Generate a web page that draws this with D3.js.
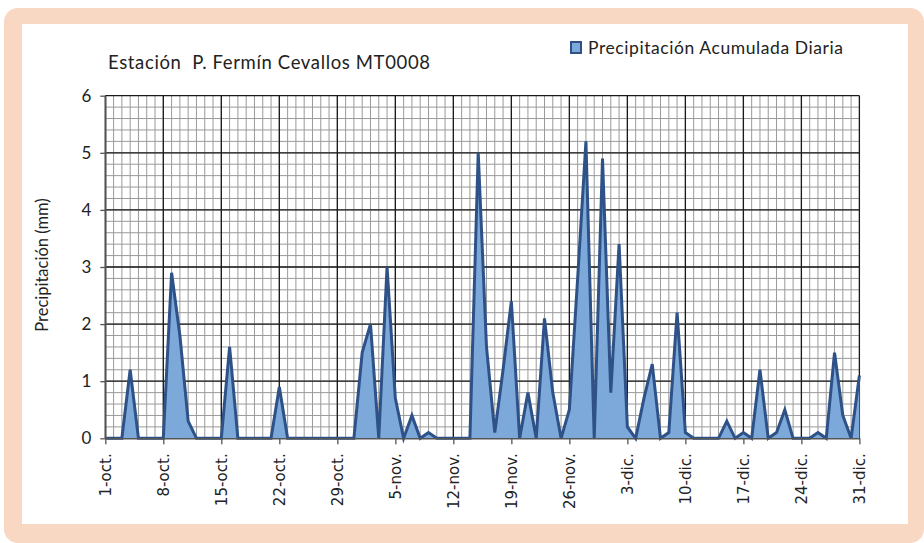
<!DOCTYPE html>
<html>
<head>
<meta charset="utf-8">
<script src="https://cdn.jsdelivr.net/npm/d3@7"></script>
<style>
  body { margin: 0; background: #fff; }
  svg { display: block; }
</style>
</head>
<body>
<div id="chart"></div>
<script>
// daily accumulated precipitation (mm), 1-oct to 31-dic
var precip = [
  0, 0, 0, 1.2, 0, 0, 0, 0, 2.9, 1.8, 0.3, 0, 0, 0, 0, 1.6, 0, 0, 0, 0, 0, 0.9, 0, 0, 0, 0, 0, 0, 0, 0, 0,
  1.5, 2.0, 0, 3.0, 0.7, 0, 0.4, 0, 0.1, 0, 0, 0, 0, 0, 5.0, 1.6, 0.1, 1.2, 2.4, 0, 0.8, 0, 2.1, 0.8, 0, 0.5, 2.8, 5.2, 0, 4.9,
  0.8, 3.4, 0.2, 0, 0.7, 1.3, 0, 0.1, 2.2, 0.1, 0, 0, 0, 0, 0.3, 0, 0.1, 0, 1.2, 0, 0.1, 0.5, 0, 0, 0, 0.1, 0, 1.5, 0.4, 0, 1.1
];
var tickLabels = ["1-oct.", "8-oct.", "15-oct.", "22-oct.", "29-oct.", "5-nov.", "12-nov.",
  "19-nov.", "26-nov.", "3-dic.", "10-dic.", "17-dic.", "24-dic.", "31-dic."];
var yTicks = [0, 1, 2, 3, 4, 5, 6];

var width = 924, height = 543;
var plot = { left: 105.3, right: 859.4, top: 95.7, bottom: 438.3 };

var svg = d3.select("#chart").append("svg")
  .attr("width", width)
  .attr("height", height);

// background frame
svg.append("rect").attr("x", 0).attr("y", 0).attr("width", width).attr("height", height).attr("fill", "#fff");
svg.append("rect").attr("x", 4).attr("y", 8).attr("width", width - 4).attr("height", height - 8)
  .attr("rx", 14).attr("fill", "#F9D8C3");
svg.append("rect").attr("x", 22).attr("y", 24).attr("width", 886).attr("height", 500).attr("fill", "#fff");

var x = d3.scaleLinear().domain([0, precip.length - 1]).range([plot.left, plot.right]);
var y = d3.scaleLinear().domain([0, 6]).range([plot.bottom, plot.top]);

// minor grid
var g = svg.append("g");
g.selectAll(".vminor").data(d3.range(0, precip.length)).enter().append("line")
  .attr("x1", function (d) { return x(d); }).attr("x2", function (d) { return x(d); })
  .attr("y1", plot.top).attr("y2", plot.bottom)
  .attr("stroke", "#9a9a9a").attr("stroke-width", 1);
g.selectAll(".hminor").data(d3.range(0, 30)).enter().append("line")
  .attr("x1", plot.left).attr("x2", plot.right)
  .attr("y1", function (d) { return y(d * 0.2); }).attr("y2", function (d) { return y(d * 0.2); })
  .attr("stroke", "#9a9a9a").attr("stroke-width", 1);

// major grid
g.selectAll(".vmajor").data(tickLabels).enter().append("line")
  .attr("x1", function (d, i) { return x(i * 7); }).attr("x2", function (d, i) { return x(i * 7); })
  .attr("y1", plot.top).attr("y2", plot.bottom)
  .attr("stroke", "#1a1a1a").attr("stroke-width", 1.3);
g.selectAll(".hmajor").data(yTicks).enter().append("line")
  .attr("x1", plot.left).attr("x2", plot.right)
  .attr("y1", function (d) { return y(d); }).attr("y2", function (d) { return y(d); })
  .attr("stroke", "#1a1a1a").attr("stroke-width", 1.3);

// area series
var area = d3.area()
  .x(function (d, i) { return x(i); })
  .y0(y(0))
  .y1(function (d) { return y(d); });
var line = d3.line()
  .x(function (d, i) { return x(i); })
  .y(function (d) { return y(d); });

svg.append("path").datum(precip)
  .attr("d", area)
  .attr("fill", "#7DA9DA");
svg.append("path").datum(precip)
  .attr("d", line)
  .attr("fill", "none")
  .attr("stroke", "#2E5288")
  .attr("stroke-width", 3)
  .attr("stroke-linejoin", "miter");

// axes
var yAxis = d3.axisLeft(y).tickValues(yTicks).tickFormat(d3.format("d")).tickSize(5).tickSizeOuter(0);
var ya = svg.append("g").attr("transform", "translate(" + plot.left + ",0)").call(yAxis);
ya.select(".domain").attr("stroke", "#555").attr("stroke-width", 1.5);
ya.selectAll(".tick line").attr("stroke", "#555").attr("stroke-width", 1.3);
ya.selectAll(".tick text")
  .attr("x", -14)
  .attr("font-family", "Lato, 'Open Sans', sans-serif")
  .attr("font-size", 17)
  .attr("fill", "#222");

var xAxis = d3.axisBottom(x).tickValues(d3.range(0, precip.length, 7))
  .tickFormat(function (d, i) { return tickLabels[i]; })
  .tickSize(6).tickSizeOuter(0);
var xa = svg.append("g").attr("transform", "translate(0," + plot.bottom + ")").call(xAxis);
xa.select(".domain").attr("stroke", "#555").attr("stroke-width", 1.5);
xa.selectAll(".tick line").attr("stroke", "#555").attr("stroke-width", 1.3);
xa.selectAll(".tick text")
  .attr("transform", "rotate(-90)")
  .attr("text-anchor", "end")
  .attr("x", -15)
  .attr("y", 0)
  .attr("dy", "0.35em")
  .attr("font-family", "'DejaVu Sans', Verdana, sans-serif")
  .attr("font-size", 15)
  .attr("fill", "#222");

// y axis title
svg.append("text")
  .attr("transform", "translate(48,265) rotate(-90)")
  .attr("text-anchor", "middle")
  .attr("font-family", "Lato, 'Open Sans', sans-serif")
  .attr("font-size", 16.5)
  .attr("fill", "#222")
  .text("Precipitación (mm)");

// chart title
svg.append("text")
  .attr("x", 108).attr("y", 69)
  .attr("font-family", "Lato, 'Open Sans', sans-serif")
  .attr("font-size", 18.5)
  .attr("textLength", 322)
  .attr("lengthAdjust", "spacing")
  .attr("fill", "#222")
  .style("white-space", "pre")
  .text("Estación  P. Fermín Cevallos MT0008");

// legend
svg.append("rect")
  .attr("x", 571).attr("y", 42).attr("width", 10).attr("height", 11)
  .attr("fill", "#7DA9DA").attr("stroke", "#2E5288").attr("stroke-width", 2);
svg.append("text")
  .attr("x", 588).attr("y", 54)
  .attr("font-family", "Lato, 'Open Sans', sans-serif")
  .attr("font-size", 17.5)
  .attr("textLength", 255)
  .attr("lengthAdjust", "spacing")
  .attr("fill", "#222")
  .text("Precipitación Acumulada Diaria");
</script>
</body>
</html>
